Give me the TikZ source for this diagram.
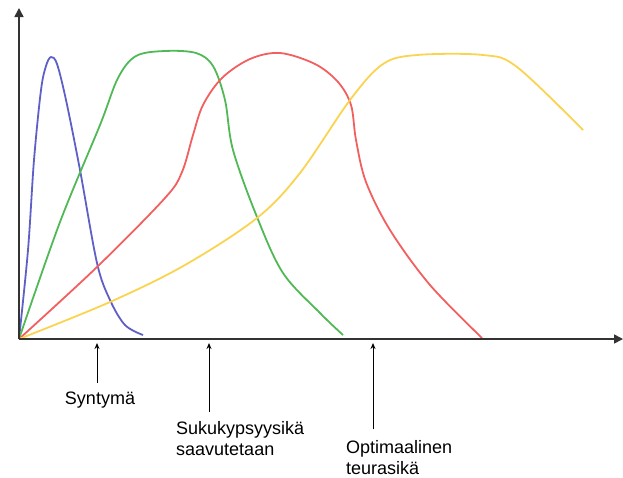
\documentclass[tikz,border=0pt]{standalone}
\usepackage{fontspec}
\setmainfont{Liberation Sans}
\usetikzlibrary{arrows.meta}
\definecolor{kblue}{RGB}{95,95,200}
\definecolor{kgreen}{RGB}{80,185,85}
\definecolor{kred}{RGB}{242,95,95}
\definecolor{kyellow}{RGB}{250,212,80}
\tikzset{
    axis/.style={draw=black!80, line width=1.6pt, -{Triangle[length=9pt,width=9pt]}},
    curve/.style={line width=1.8pt, smooth, tension=0.55},
    pointer/.style={draw=black, line width=1pt, -{Stealth[length=6pt,width=5pt]}},
    label/.style={font=\fontsize{18}{21}\selectfont, inner sep=0pt}
}
\begin{document}
\begin{tikzpicture}[x=1pt, y=-1pt]
        \useasboundingbox (0,0) rectangle (623,477);
        \coordinate (o) at (19, 339);
        \coordinate (ytop) at (19, 8);
        \coordinate (xend) at (623, 339);
        % curves
        \draw [kblue, curve] plot coordinates {(19,339) (28,250) (34,160) (41,90) (46,66) (51,57) (57,64) (66,100) (80,170) (97,263) (110,300) (125,325) (143,335)};
        \draw [kgreen, curve] plot coordinates {(19,339) (60,222) (100,125) (118,78) (136,56) (165,51) (196,53) (213,66) (225,100) (233,150) (257,217) (283,273) (320,313) (343,335)};
        \draw [kred, curve] plot coordinates {(19,339) (97,267) (165,198) (182,172) (193,135) (203,105) (222,78) (250,59) (280,53) (315,64) (338,82) (351,105) (356,140) (366,182) (390,230) (430,285) (482,338)};
        \draw [kyellow, curve] plot coordinates {(19,339) (110,302) (185,265) (257,218) (300,173) (350,100) (383,64) (417,55) (483,55) (517,67) (583,130)};
        % axes
        \draw [axis] (o) -- (ytop);
        \draw [axis] (o) -- (xend);
        % labels
        \node [label] (syn) at (100, 400) {Syntymä};
        \node [label, align=left, anchor=north west] (suku) at (176, 421) {Sukukypsyysikä\\saavutetaan};
        \node [label, align=left, anchor=north west] (opti) at (346, 440) {Optimaalinen\\teurasikä};
        \coordinate (syn-a) at (97, 383);
        \coordinate (syn-b) at (97, 343);
        \coordinate (suku-a) at (209, 412);
        \coordinate (suku-b) at (209, 343);
        \coordinate (opti-a) at (373, 429);
        \coordinate (opti-b) at (373, 343);
        \draw [pointer] (syn-a) -- (syn-b);
        \draw [pointer] (suku-a) -- (suku-b);
        \draw [pointer] (opti-a) -- (opti-b);
\end{tikzpicture}
\end{document}
